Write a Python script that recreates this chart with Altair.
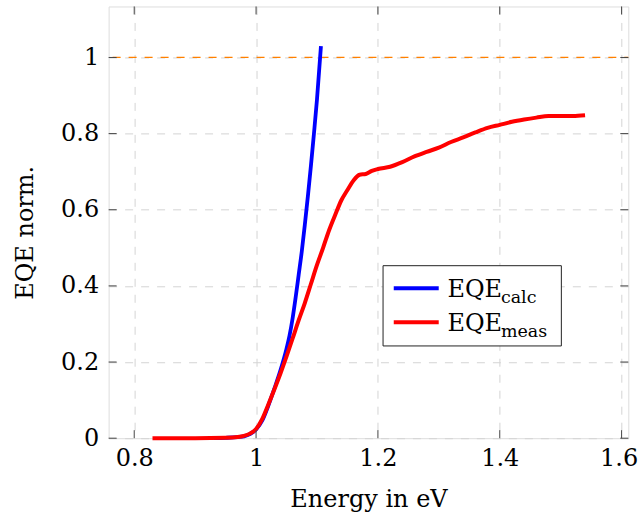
import altair as alt
import pandas as pd

# Measured external quantum efficiency (normalised) versus photon energy
meas_energy = [0.83, 0.90, 0.95, 0.97, 0.98, 0.99, 1.00, 1.01, 1.02, 1.03,
               1.04, 1.05, 1.06, 1.07, 1.08, 1.09, 1.10, 1.11, 1.12, 1.13,
               1.14, 1.15, 1.16, 1.17, 1.18, 1.19, 1.20, 1.22, 1.24, 1.26,
               1.28, 1.30, 1.32, 1.34, 1.36, 1.38, 1.40, 1.42, 1.44, 1.46,
               1.48, 1.50, 1.52, 1.54]
meas_eqe = [0.0, 0.0, 0.001, 0.003, 0.006, 0.012, 0.024, 0.050, 0.088, 0.128,
            0.170, 0.215, 0.262, 0.310, 0.355, 0.405, 0.455, 0.500, 0.547, 0.587,
            0.625, 0.652, 0.677, 0.692, 0.694, 0.702, 0.707, 0.713, 0.725, 0.740,
            0.752, 0.763, 0.778, 0.790, 0.803, 0.815, 0.823, 0.831, 0.837, 0.842,
            0.846, 0.846, 0.846, 0.848]

# Calculated EQE from the absorption model
calc_energy = [0.93, 0.95, 0.97, 0.98, 0.99, 1.00, 1.01, 1.02, 1.03, 1.04,
               1.05, 1.055, 1.06, 1.065, 1.07, 1.075, 1.08, 1.085, 1.09, 1.095,
               1.10, 1.1065]
calc_eqe = [0.0, 0.001, 0.003, 0.005, 0.011, 0.023, 0.046, 0.085, 0.130, 0.178,
            0.235, 0.270, 0.315, 0.370, 0.430, 0.490, 0.560, 0.635, 0.715, 0.800,
            0.890, 1.030]

x_ticks = [0.8, 1.0, 1.2, 1.4, 1.6]
y_ticks = [0.0, 0.2, 0.4, 0.6, 0.8, 1.0]
reference_level = [1.0]
legend_main = "EQE"
legend_subs = ["calc", "meas"]
series_colors = ["#0000ff", "#ff0000"]

X_DOMAIN = [0.758, 1.611]
Y_DOMAIN = [0.0, 1.134]
W, H = 520, 432
FONT = "DejaVu Serif"
FS = 24
SUB_FS = 17.5
TICK_LEN = 8

meas = pd.DataFrame({"energy": meas_energy, "eqe": meas_eqe})
calc = pd.DataFrame({"energy": calc_energy, "eqe": calc_eqe})
xt = pd.DataFrame({"v": x_ticks})
yt = pd.DataFrame({"v": y_ticks})
ref = pd.DataFrame({"v": reference_level})

xscale = alt.Scale(domain=X_DOMAIN, nice=False, zero=False)
yscale = alt.Scale(domain=Y_DOMAIN, nice=False, zero=False)

x_axis = alt.Axis(
    values=x_ticks, format="~g", grid=True, gridDash=[8, 8], gridColor="#d4d4d4",
    gridWidth=1, ticks=False, domain=False, labelFont=FONT, labelFontSize=FS,
    labelColor="#000", labelPadding=8,
    labelOffset={"condition": {"test": "datum.value >= 1.6", "value": -3}, "value": 0},
    title="Energy in eV", titleFont=FONT,
    titleFontSize=FS, titleFontWeight="normal", titleColor="#000",
    titleBaseline="alphabetic", titleY=68,
)
y_axis = alt.Axis(
    values=y_ticks, format="~g", grid=True, gridDash=[8, 8], gridColor="#d4d4d4",
    gridWidth=1, ticks=False, domain=False, labelFont=FONT, labelFontSize=FS,
    labelColor="#000", labelPadding=10, title="EQE norm.", titleFont=FONT,
    titleFontSize=FS, titleFontWeight="normal", titleColor="#000",
    titleBaseline="alphabetic", titleX=-76, titleY=226,
)

# Grid and axis labels (no visible marks of its own)
base = alt.Chart(xt).mark_point(opacity=0).encode(
    x=alt.X("v:Q", scale=xscale, axis=x_axis),
)
base_y = alt.Chart(yt).mark_point(opacity=0).encode(
    y=alt.Y("v:Q", scale=yscale, axis=y_axis),
)

ref_line = alt.Chart(ref).mark_rule(
    color="#ff8000", strokeDash=[8, 8], strokeDashOffset=4, strokeWidth=1.2
).encode(y=alt.Y("v:Q", scale=yscale))

calc_line = alt.Chart(calc).mark_line(
    color=series_colors[0], strokeWidth=3.8, interpolate="monotone"
).encode(x=alt.X("energy:Q", scale=xscale), y=alt.Y("eqe:Q", scale=yscale))

meas_line = alt.Chart(meas).mark_line(
    color=series_colors[1], strokeWidth=4, interpolate="monotone"
).encode(x=alt.X("energy:Q", scale=xscale), y=alt.Y("eqe:Q", scale=yscale))

# Inward tick marks on all four sides
tick_style = dict(color="#444", strokeWidth=1)
ticks_bottom = alt.Chart(xt).mark_rule(**tick_style).encode(
    x=alt.X("v:Q", scale=xscale), y=alt.value(H), y2=alt.value(H - TICK_LEN))
ticks_top = alt.Chart(xt).mark_rule(**tick_style).encode(
    x=alt.X("v:Q", scale=xscale), y=alt.value(0), y2=alt.value(TICK_LEN))
ticks_left = alt.Chart(yt).mark_rule(**tick_style).encode(
    y=alt.Y("v:Q", scale=yscale), x=alt.value(0), x2=alt.value(TICK_LEN))
ticks_right = alt.Chart(yt).mark_rule(**tick_style).encode(
    y=alt.Y("v:Q", scale=yscale), x=alt.value(W), x2=alt.value(W - TICK_LEN))

# Legend box with subscripted entries
lg_x0, lg_x1, lg_y0, lg_y1 = 274.6, 453.0, 259.4, 339.7
row_y = [282.0, 316.0]
one = pd.DataFrame({"k": [0]})
legend_box = alt.Chart(one).mark_rect(
    fill="white", stroke="#222", strokeWidth=1
).encode(x=alt.value(lg_x0), x2=alt.value(lg_x1), y=alt.value(lg_y0), y2=alt.value(lg_y1))

legend_layers = [legend_box]
for i, (sub, col) in enumerate(zip(legend_subs, series_colors)):
    ry = row_y[i]
    legend_layers.append(
        alt.Chart(one).mark_rule(color=col, strokeWidth=4).encode(
            x=alt.value(285.3), x2=alt.value(330.3), y=alt.value(ry), y2=alt.value(ry))
    )
    legend_layers.append(
        alt.Chart(pd.DataFrame({"t": [legend_main]})).mark_text(
            align="left", baseline="alphabetic", font=FONT, fontSize=FS, color="#000"
        ).encode(x=alt.value(339.0), y=alt.value(ry + 8.5), text="t:N")
    )
    legend_layers.append(
        alt.Chart(pd.DataFrame({"t": [sub]})).mark_text(
            align="left", baseline="alphabetic", font=FONT, fontSize=SUB_FS, color="#000"
        ).encode(x=alt.value(392.5), y=alt.value(ry + 15.0), text="t:N")
    )

chart = alt.layer(
    base, base_y, ref_line, calc_line, meas_line,
    ticks_bottom, ticks_top, ticks_left, ticks_right,
    *legend_layers,
).properties(
    width=W, height=H,
    autosize=alt.AutoSizeParams(type="none"),
    padding={"left": 108.7, "top": 6.3, "right": 10.7, "bottom": 80.7},
).configure_view(
    stroke="#333", strokeWidth=1
).configure(background="white")

chart.save("out.html", embed_options={"renderer": "svg", "actions": False})
